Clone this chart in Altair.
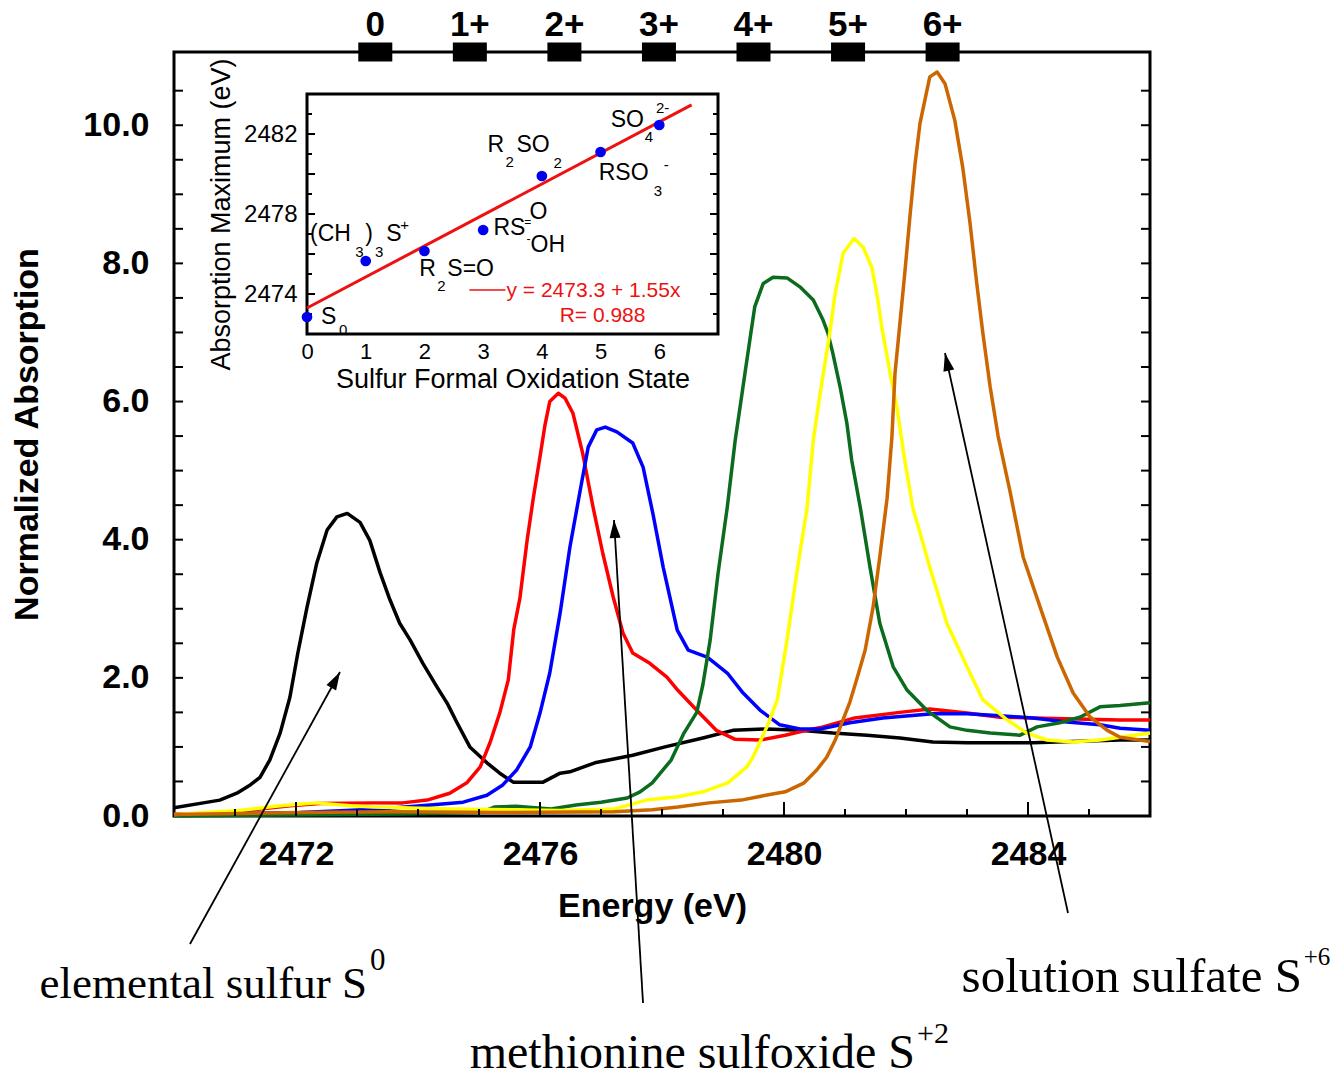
import math
import altair as alt
import numpy as np
import pandas as pd

# ---------------- main spectra: energy (eV) / normalized absorption ----------------
black_E = [2470.00, 2470.48, 2470.75, 2471.03, 2471.25, 2471.41, 2471.57, 2471.74, 2471.90, 2472.03,
           2472.18, 2472.34, 2472.51, 2472.67, 2472.84, 2473.05, 2473.21, 2473.38, 2473.54, 2473.70,
           2473.87, 2474.08, 2474.31, 2474.48, 2474.64, 2474.85, 2475.13, 2475.34, 2475.56, 2476.05,
           2476.33, 2476.49, 2476.90, 2477.52, 2478.05, 2478.67, 2479.16, 2479.72, 2480.26, 2480.80,
           2481.36, 2481.90, 2482.44, 2483.00, 2484.08, 2485.51, 2486.00]
black_A = [0.12, 0.19, 0.23, 0.33, 0.45, 0.56, 0.81, 1.20, 1.72, 2.36,
           3.02, 3.66, 4.14, 4.33, 4.38, 4.25, 3.99, 3.52, 3.13, 2.79,
           2.55, 2.21, 1.87, 1.63, 1.35, 1.00, 0.77, 0.62, 0.49, 0.49,
           0.62, 0.64, 0.77, 0.88, 1.00, 1.13, 1.24, 1.26, 1.24, 1.20,
           1.17, 1.13, 1.07, 1.06, 1.06, 1.10, 1.10]

red_E = [2470.00, 2470.92, 2471.41, 2471.90, 2472.39, 2473.26, 2473.75, 2474.15, 2474.52, 2474.80,
         2475.02, 2475.18, 2475.34, 2475.48, 2475.57, 2475.67, 2475.79, 2475.89, 2476.00, 2476.08,
         2476.16, 2476.30, 2476.41, 2476.54, 2476.70, 2476.87, 2477.03, 2477.20, 2477.36, 2477.52,
         2477.80, 2478.08, 2478.26, 2478.57, 2478.89, 2479.20, 2479.61, 2480.02, 2480.26, 2480.64,
         2481.16, 2481.90, 2482.39, 2483.00, 2483.54, 2484.08, 2485.51, 2486.00]
red_A = [0.02, 0.05, 0.10, 0.15, 0.18, 0.19, 0.19, 0.23, 0.33, 0.48,
         0.71, 1.06, 1.49, 1.97, 2.70, 3.15, 4.00, 4.60, 5.20, 5.65,
         6.00, 6.12, 6.05, 5.83, 5.25, 4.47, 3.80, 3.17, 2.65, 2.36,
         2.21, 2.01, 1.82, 1.53, 1.24, 1.11, 1.10, 1.17, 1.22, 1.29,
         1.42, 1.50, 1.55, 1.49, 1.43, 1.42, 1.39, 1.39]

blue_E = [2470.00, 2472.07, 2473.38, 2474.20, 2474.74, 2475.13, 2475.39, 2475.62, 2475.84, 2476.00,
          2476.16, 2476.33, 2476.49, 2476.66, 2476.79, 2476.93, 2477.07, 2477.26, 2477.52, 2477.69,
          2477.85, 2478.02, 2478.25, 2478.43, 2478.74, 2478.84, 2479.07, 2479.33, 2479.61, 2479.93,
          2480.26, 2480.59, 2481.08, 2481.62, 2482.44, 2483.00, 2483.54, 2484.08, 2484.64, 2485.18,
          2485.51, 2486.00]
blue_A = [0.02, 0.05, 0.10, 0.16, 0.20, 0.30, 0.45, 0.67, 1.00, 1.49,
          2.07, 2.94, 3.89, 4.72, 5.34, 5.59, 5.63, 5.56, 5.40, 5.05,
          4.38, 3.60, 2.69, 2.40, 2.30, 2.23, 2.07, 1.78, 1.53, 1.32,
          1.26, 1.26, 1.35, 1.42, 1.48, 1.48, 1.45, 1.42, 1.36, 1.32,
          1.27, 1.24]

green_E = [2470.00, 2473.70, 2475.02, 2475.25, 2475.61, 2476.18, 2476.59, 2477.00, 2477.43, 2477.64,
           2477.84, 2478.15, 2478.36, 2478.57, 2478.67, 2478.79, 2478.92, 2479.07, 2479.20, 2479.28,
           2479.36, 2479.44, 2479.52, 2479.66, 2479.82, 2480.05, 2480.26, 2480.48, 2480.64, 2480.72,
           2480.80, 2480.92, 2481.03, 2481.11, 2481.25, 2481.41, 2481.57, 2481.79, 2482.02, 2482.34,
           2482.72, 2483.00, 2483.38, 2483.87, 2484.15, 2484.52, 2484.85, 2485.18, 2485.51, 2486.00]
green_A = [0.00, 0.03, 0.05, 0.13, 0.14, 0.10, 0.16, 0.20, 0.26, 0.35,
           0.48, 0.81, 1.20, 1.50, 1.90, 2.55, 3.52, 4.47, 5.44, 5.92,
           6.41, 6.89, 7.37, 7.71, 7.80, 7.79, 7.66, 7.47, 7.18, 6.99,
           6.70, 6.21, 5.69, 5.15, 4.47, 3.60, 2.79, 2.16, 1.82, 1.53,
           1.29, 1.24, 1.20, 1.17, 1.29, 1.35, 1.43, 1.58, 1.60, 1.64]

yellow_E = [2470.00, 2471.08, 2471.74, 2472.33, 2472.89, 2473.26, 2474.52, 2476.33, 2477.21, 2477.74,
            2478.26, 2478.67, 2479.08, 2479.39, 2479.49, 2479.72, 2479.89, 2480.05, 2480.21, 2480.38,
            2480.48, 2480.59, 2480.75, 2480.84, 2480.97, 2481.15, 2481.30, 2481.44, 2481.52, 2481.62,
            2481.74, 2481.85, 2481.98, 2482.11, 2482.39, 2482.67, 2483.00, 2483.26, 2483.66, 2483.98,
            2484.31, 2484.74, 2485.18, 2485.51, 2486.00]
yellow_A = [0.02, 0.08, 0.15, 0.19, 0.15, 0.13, 0.10, 0.08, 0.10, 0.23,
            0.28, 0.35, 0.48, 0.71, 0.85, 1.29, 1.68, 2.55, 3.52, 4.47,
            5.44, 6.10, 6.99, 7.57, 8.15, 8.36, 8.23, 7.94, 7.57, 6.99,
            6.41, 5.92, 5.15, 4.47, 3.60, 2.79, 2.16, 1.68, 1.39, 1.20,
            1.10, 1.07, 1.10, 1.14, 1.20]

orange_E = [2470.00, 2472.07, 2473.70, 2475.34, 2477.21, 2477.84, 2478.26, 2478.77, 2479.30, 2479.70,
            2480.02, 2480.33, 2480.54, 2480.70, 2480.84, 2480.97, 2481.08, 2481.20, 2481.33, 2481.46,
            2481.57, 2481.69, 2481.77, 2481.82, 2481.90, 2481.98, 2482.07, 2482.15, 2482.23, 2482.39,
            2482.51, 2482.64, 2482.80, 2482.93, 2483.05, 2483.16, 2483.26, 2483.38, 2483.51, 2483.70,
            2483.92, 2484.20, 2484.48, 2484.74, 2485.02, 2485.30, 2485.51, 2486.00]
orange_A = [0.02, 0.05, 0.06, 0.05, 0.06, 0.09, 0.13, 0.19, 0.23, 0.30,
            0.35, 0.48, 0.67, 0.85, 1.10, 1.40, 1.65, 2.00, 2.40, 3.02,
            3.75, 4.60, 5.50, 6.41, 7.13, 7.86, 8.73, 9.45, 10.03, 10.70,
            10.77, 10.60, 10.07, 9.39, 8.58, 7.71, 6.99, 6.21, 5.50, 4.72,
            3.75, 3.02, 2.30, 1.78, 1.43, 1.24, 1.14, 1.08]

series_names = ["black", "red", "blue", "green", "yellow", "orange"]
series_colors = ["#000000", "#ff0000", "#0000ff", "#0b6b1e", "#ffff00", "#cc6600"]
series_E = [black_E, red_E, blue_E, green_E, yellow_E, orange_E]
series_A = [black_A, red_A, blue_A, green_A, yellow_A, orange_A]

# ---------------- inset: absorption maximum vs oxidation state ----------------
ox_state = [0, 1, 2, 3, 4, 5, 6]
abs_max = [2472.85, 2475.65, 2476.15, 2477.2, 2479.9, 2481.1, 2482.45]
FIT_A, FIT_B, FIT_R = 2473.3, 1.55, 0.988
fit_x = [0, 6.55]
state_labels = ["0", "1+", "2+", "3+", "4+", "5+", "6+"]

# tick / label values
x_label_vals = [2472, 2476, 2480, 2484]
x_minor_vals = [2471, 2473, 2474, 2475, 2477, 2478, 2479, 2481, 2482, 2483, 2485]
y_label_vals = [0, 2, 4, 6, 8, 10]
y_tick_vals = [0.5 * i for i in range(1, 22)]
inset_x_label_vals = [0, 1, 2, 3, 4, 5, 6]
inset_y_label_vals = [2474, 2478, 2482]
inset_major_vals = [2474, 2476, 2478, 2480, 2482]
inset_minor_vals = [2473, 2475, 2477, 2479, 2481, 2483]

# ---------------- layout ----------------
W, H = 976, 764
E_DOM = [2470, 2486]
A_DOM = [0, 11.06]
OX_DOM = [0, 7]
EV_DOM = [2472, 2484]
INSET_X_RANGE = [133, 544]
INSET_Y_RANGE = [282, 42]
SANS = "Liberation Sans"
SERIF = "Liberation Serif"
LW = 3.5

xs = alt.Scale(domain=E_DOM, nice=False, zero=False)
ys = alt.Scale(domain=A_DOM, nice=False, zero=False)
ixs = alt.Scale(domain=OX_DOM, range=INSET_X_RANGE, nice=False, zero=False)
iys = alt.Scale(domain=EV_DOM, range=INSET_Y_RANGE, nice=False, zero=False)

rows = []
for name, Es, As in zip(series_names, series_E, series_A):
    for i, (e, a) in enumerate(zip(Es, As)):
        rows.append({"series": name, "E": e, "A": a, "idx": i})
curve_df = pd.DataFrame(rows)

x_axis = alt.Axis(orient="bottom", values=x_label_vals, format="d", ticks=False, domain=False,
                  grid=False, labelFont=SANS, labelFontSize=34, labelFontWeight="bold",
                  labelColor="black", labelPadding=21, labelFlush=False, title="Energy (eV)",
                  titleFont=SANS, titleFontSize=34, titleFontWeight="bold", titleColor="black",
                  titlePadding=18, titleX=478)
y_axis = alt.Axis(orient="left", values=y_label_vals, format=".1f", ticks=False, domain=False,
                  grid=False, labelFont=SANS, labelFontSize=34, labelFontWeight="bold",
                  labelColor="black", labelPadding=25, title="Normalized Absorption",
                  titleFont=SANS, titleFontSize=34, titleFontWeight="bold", titleColor="black",
                  titlePadding=38)

lines = alt.Chart(curve_df).mark_line(strokeWidth=LW, strokeJoin="round").encode(
    x=alt.X("E:Q", scale=xs, axis=x_axis),
    y=alt.Y("A:Q", scale=ys, axis=y_axis),
    color=alt.Color("series:N", scale=alt.Scale(domain=series_names, range=series_colors), legend=None),
    order=alt.Order("idx:Q"),
)

ytk = pd.DataFrame({"A": y_tick_vals})
left_ticks = alt.Chart(ytk).mark_rule(strokeWidth=2, color="black").encode(
    y=alt.Y("A:Q", scale=ys, axis=None), x=alt.value(0), x2=alt.value(9))
right_ticks = alt.Chart(ytk).mark_rule(strokeWidth=2, color="black").encode(
    y=alt.Y("A:Q", scale=ys, axis=None), x=alt.value(W - 9), x2=alt.value(W))
bot_major = alt.Chart(pd.DataFrame({"E": x_label_vals})).mark_rule(strokeWidth=2, color="black").encode(
    x=alt.X("E:Q", scale=xs, axis=None), y=alt.value(H), y2=alt.value(H - 14))
bot_minor = alt.Chart(pd.DataFrame({"E": x_minor_vals})).mark_rule(strokeWidth=2, color="black").encode(
    x=alt.X("E:Q", scale=xs, axis=None), y=alt.value(H), y2=alt.value(H - 7))

state_df = pd.DataFrame({"n": ox_state, "label": state_labels})
state_df["E"] = FIT_A + FIT_B * state_df["n"]
markers = alt.Chart(state_df).mark_point(
    shape="M-1,-0.56H1V0.56H-1Z", size=34 * 34, filled=True, color="black", opacity=1, strokeWidth=0
).encode(x=alt.X("E:Q", scale=xs, axis=None), y=alt.value(0))
marker_text = alt.Chart(state_df).mark_text(
    font=SANS, fontSize=35, fontWeight="bold", baseline="middle", align="center", dy=-27, color="black"
).encode(x=alt.X("E:Q", scale=xs, axis=None), y=alt.value(0), text="label:N")

# annotation arrows (tail -> tip, in data coordinates)
arrows = pd.DataFrame({
    "E0": [2470.262, 2477.689, 2484.656], "A0": [-1.853, -2.707, -1.404],
    "E1": [2472.721, 2477.213, 2482.639], "A1": [2.085, 4.285, 6.702],
})
px_x = W / (E_DOM[1] - E_DOM[0])
px_y = H / (A_DOM[1] - A_DOM[0])
HEAD_BACK = 10
heads = []
for _, r in arrows.iterrows():
    dx = (r.E1 - r.E0) * px_x
    dy = -(r.A1 - r.A0) * px_y
    L = math.hypot(dx, dy)
    ux, uy = dx / L, dy / L
    ang = math.degrees(math.atan2(ux, -uy)) % 360
    heads.append({"E": r.E1 - HEAD_BACK * ux / px_x, "A": r.A1 + HEAD_BACK * uy / px_y, "angle": ang})
heads = pd.DataFrame(heads)

arrow_lines = alt.Chart(arrows).mark_rule(strokeWidth=1.8, color="black").encode(
    x=alt.X("E0:Q", scale=xs, axis=None), x2="E1:Q",
    y=alt.Y("A0:Q", scale=ys, axis=None), y2="A1:Q")
arrow_heads = alt.Chart(heads).mark_point(
    shape="M0,-1L0.55,0.8L-0.55,0.8Z", size=400, filled=True, color="black", opacity=1, strokeWidth=0
).encode(x=alt.X("E:Q", scale=xs, axis=None), y=alt.Y("A:Q", scale=ys, axis=None),
         angle=alt.Angle("angle:Q", scale=None))

notes = pd.DataFrame({
    "text": ["elemental sulfur S", "methionine sulfoxide S", "solution sulfate S"],
    "sup": ["0", "+2", "+6"],
    "fs": [45, 48, 49], "fss": [31, 30, 25],
    "E": [2473.164, 2482.148, 2488.49], "A": [-2.635, -3.648, -2.548],
    "Es": [2473.213, 2482.18, 2488.52], "As": [-2.229, -3.286, -2.157],
})
note_text = alt.Chart(notes).mark_text(
    font=SERIF, align="right", baseline="alphabetic", color="black"
).encode(x=alt.X("E:Q", scale=xs, axis=None), y=alt.Y("A:Q", scale=ys, axis=None), text="text:N",
         size=alt.Size("fs:Q", scale=None))
note_sup = alt.Chart(notes).mark_text(
    font=SERIF, align="left", baseline="alphabetic", color="black"
).encode(x=alt.X("Es:Q", scale=xs, axis=None), y=alt.Y("As:Q", scale=ys, axis=None), text="sup:N",
         size=alt.Size("fss:Q", scale=None))

# ---------------- inset layers ----------------
frame_df = pd.DataFrame({"x0": [OX_DOM[0]], "x1": [OX_DOM[1]], "y0": [EV_DOM[0]], "y1": [EV_DOM[1]]})
inset_frame = alt.Chart(frame_df).mark_rect(fill="white", stroke="black", strokeWidth=3).encode(
    x=alt.X("x0:Q", scale=ixs, axis=None), x2="x1:Q",
    y=alt.Y("y0:Q", scale=iys, axis=None), y2="y1:Q")

ix_axis = alt.Axis(orient="bottom", offset=-(H - INSET_Y_RANGE[0]), values=inset_x_label_vals,
                   ticks=False, domain=False, grid=False, labelFont=SANS, labelFontSize=22,
                   labelColor="black", labelPadding=7, labelFlush=False,
                   title="Sulfur Formal Oxidation State", titleFont=SANS, titleFontSize=27,
                   titleFontWeight="normal", titleColor="black", titlePadding=4)
iy_axis = alt.Axis(orient="left", offset=-INSET_X_RANGE[0], values=inset_y_label_vals, format="d",
                   ticks=False, domain=False, grid=False, labelFont=SANS, labelFontSize=24,
                   labelColor="black", labelPadding=10, labelFlush=False,
                   title="Absorption Maximum (eV)", titleFont=SANS, titleFontSize=27,
                   titleFontWeight="normal", titleColor="black", titlePadding=8)

fit_df = pd.DataFrame({"ox": fit_x})
fit_df["ev"] = FIT_A + FIT_B * fit_df["ox"]
fit_line = alt.Chart(fit_df).mark_line(color="#ee1111", strokeWidth=3).encode(
    x=alt.X("ox:Q", scale=ixs, axis=None), y=alt.Y("ev:Q", scale=iys, axis=None))

pts_df = pd.DataFrame({"ox": ox_state, "ev": abs_max})
pts = alt.Chart(pts_df).mark_circle(size=115, color="#0000ee", opacity=1).encode(
    x=alt.X("ox:Q", scale=ixs, axis=ix_axis), y=alt.Y("ev:Q", scale=iys, axis=iy_axis))

tick_layers = []
for vals, ln in ((inset_major_vals, 8), (inset_minor_vals, 5)):
    for xpos, off in ((OX_DOM[0], ln / 2), (OX_DOM[1], -ln / 2)):
        df = pd.DataFrame({"ev": vals, "ox": [xpos] * len(vals)})
        tick_layers.append(
            alt.Chart(df).mark_tick(orient="horizontal", size=ln, thickness=2, color="black",
                                    xOffset=off, opacity=1).encode(
                x=alt.X("ox:Q", scale=ixs, axis=None), y=alt.Y("ev:Q", scale=iys, axis=None)))

BIG, SUB = 23, 15
inset_labels = pd.DataFrame([
    ("S", 0.239, 2472.85, BIG), ("0", 0.546, 2472.2, SUB),
    ("(CH", 0.051, 2477.0, BIG), ("3", 0.82, 2476.1, SUB), (")", 0.99, 2477.0, BIG),
    ("3", 1.16, 2476.1, SUB), ("S", 1.349, 2477.0, BIG), ("+", 1.588, 2477.45, SUB),
    ("R", 1.912, 2475.25, BIG), ("2", 2.22, 2474.4, SUB), ("S=O", 2.39, 2475.25, BIG),
    ("RS", 3.176, 2477.3, BIG), ("=", 3.70, 2477.6, 12), ("O", 3.79, 2478.1, BIG),
    ("-", 3.74, 2476.75, 12), ("OH", 3.807, 2476.45, BIG),
    ("R", 3.073, 2481.45, BIG), ("2", 3.38, 2480.6, SUB), ("SO", 3.568, 2481.45, BIG),
    ("2", 4.2, 2480.55, SUB),
    ("RSO", 4.968, 2480.05, BIG), ("3", 5.907, 2479.15, SUB), ("-", 6.078, 2480.45, SUB),
    ("SO", 5.173, 2482.7, BIG), ("4", 5.754, 2481.85, SUB), ("2-", 5.942, 2483.3, SUB),
], columns=["text", "ox", "ev", "fs"])
inset_text = alt.Chart(inset_labels).mark_text(
    font=SANS, align="left", baseline="middle", color="black"
).encode(x=alt.X("ox:Q", scale=ixs, axis=None), y=alt.Y("ev:Q", scale=iys, axis=None),
         text="text:N", size=alt.Size("fs:Q", scale=None))

legend_line_df = pd.DataFrame({"ox": [2.766, 3.38], "ev": [2474.2, 2474.2]})
legend_line = alt.Chart(legend_line_df).mark_line(color="#ee1111", strokeWidth=1.5).encode(
    x=alt.X("ox:Q", scale=ixs, axis=None), y=alt.Y("ev:Q", scale=iys, axis=None))
legend_df = pd.DataFrame({
    "text": [f"y = {FIT_A} + {FIT_B}x", f"R= {FIT_R}"],
    "ox": [3.398, 4.303], "ev": [2474.15, 2472.9]})
legend_text = alt.Chart(legend_df).mark_text(
    font=SANS, fontSize=21, align="left", baseline="middle", color="#ee1111"
).encode(x=alt.X("ox:Q", scale=ixs, axis=None), y=alt.Y("ev:Q", scale=iys, axis=None), text="text:N")

chart = alt.layer(
    lines, left_ticks, right_ticks, bot_major, bot_minor, markers, marker_text,
    arrow_lines, arrow_heads, note_text, note_sup,
    inset_frame, *tick_layers, fit_line, pts, inset_text, legend_line, legend_text,
).resolve_scale(x="independent", y="independent").properties(
    width=W, height=H,
    autosize=alt.AutoSizeParams(type="none"),
    padding={"left": 174, "top": 52, "right": 1331 - 174 - W, "bottom": 1079 - 52 - H},
    background="white",
).configure_view(stroke="black", strokeWidth=3).configure_axis(labelFont=SANS, titleFont=SANS)

chart.save("out.html", embed_options={"renderer": "svg", "actions": False})
